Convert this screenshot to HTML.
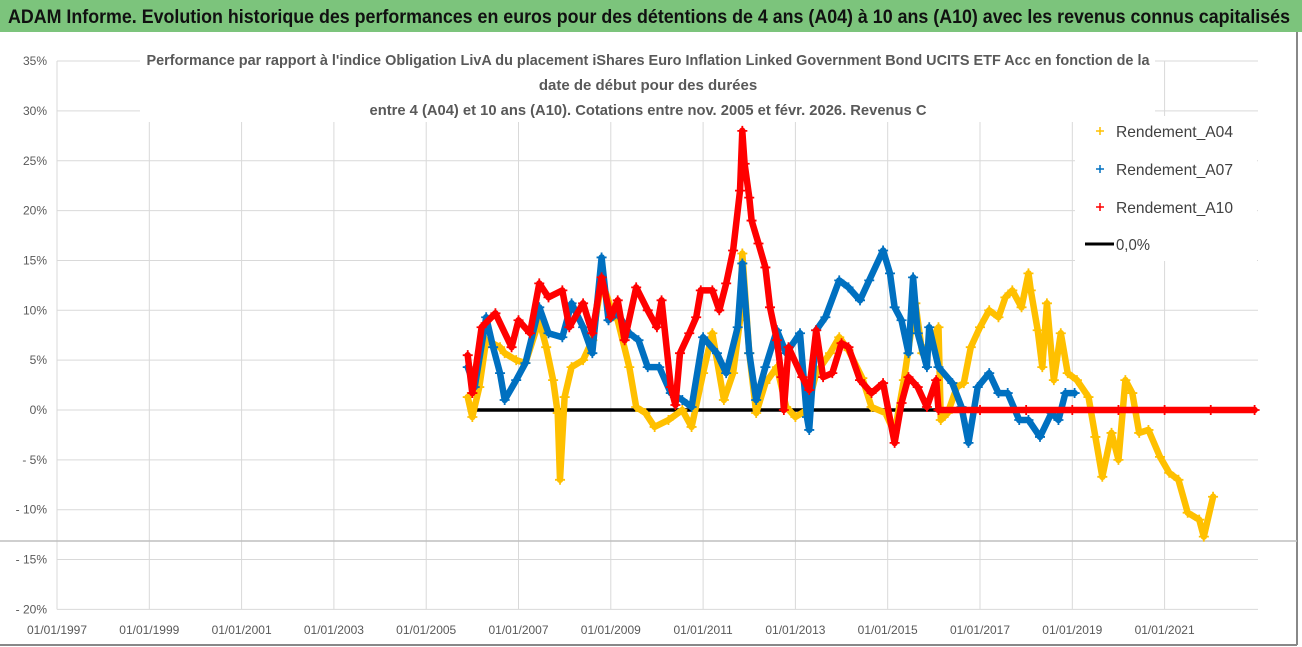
<!DOCTYPE html>
<html><head><meta charset="utf-8"><style>
body{margin:0;background:#fff;width:1302px;height:647px;overflow:hidden;font-family:"Liberation Sans",sans-serif}
svg{display:block}
</style></head><body>
<svg id="chart" width="1302" height="647" xmlns="http://www.w3.org/2000/svg">
<rect x="0" y="0" width="1302" height="647" fill="#fff"/>
<rect x="0" y="0" width="1302" height="32" fill="#7cc47c"/>
<text x="8" y="23" font-size="19" font-weight="bold" fill="#111" textLength="1282" lengthAdjust="spacingAndGlyphs">ADAM Informe. Evolution historique des performances en euros pour des détentions de 4 ans (A04) à 10 ans (A10) avec les revenus connus capitalisés</text>
<line x1="1297" y1="32" x2="1297" y2="645" stroke="#888" stroke-width="2"/>
<line x1="0" y1="645" x2="1297" y2="645" stroke="#888" stroke-width="2"/>
<g id="grid"></g>
<g id="series"></g>
<rect x="140" y="42" width="1015" height="80" fill="#fff"/>
<g font-size="15" font-weight="bold" fill="#595959" text-anchor="middle">
<text x="648" y="65" textLength="1003" lengthAdjust="spacingAndGlyphs">Performance par rapport à l'indice Obligation LivA  du placement iShares Euro Inflation Linked Government Bond UCITS ETF Acc en fonction de la</text>
<text x="648" y="90">date de début pour des durées</text>
<text x="648" y="115" textLength="557" lengthAdjust="spacingAndGlyphs">entre 4 (A04) et 10 ans (A10). Cotations entre nov. 2005 et févr. 2026. Revenus C</text>
</g>
<rect x="1075" y="116" width="182" height="145" fill="#fff"/>
<g font-size="16" fill="#404040">
<g><path d="M1096 131h8M1100 127v8" stroke="#ffc000" stroke-width="1.5"/><text x="1116" y="137" textLength="117" lengthAdjust="spacingAndGlyphs">Rendement_A04</text></g>
<g><path d="M1096 169h8M1100 165v8" stroke="#0070c0" stroke-width="1.5"/><text x="1116" y="175" textLength="117" lengthAdjust="spacingAndGlyphs">Rendement_A07</text></g>
<g><path d="M1096 207h8M1100 203v8" stroke="#ff0000" stroke-width="1.5"/><text x="1116" y="213" textLength="117" lengthAdjust="spacingAndGlyphs">Rendement_A10</text></g>
<g><line x1="1085" y1="244" x2="1114" y2="244" stroke="#000" stroke-width="3"/><text x="1116" y="250" textLength="34" lengthAdjust="spacingAndGlyphs">0,0%</text></g>
</g>
</svg>
<script>
const yTicks=[35,30,25,20,15,10,5,0,-5,-10,-15,-20];
const yTickLabels=["35%","30%","25%","20%","15%","10%","5%","0%","- 5%","- 10%","- 15%","- 20%"];
const xTicks=[1997,1999,2001,2003,2005,2007,2009,2011,2013,2015,2017,2019,2021];
const xTickLabels=["01/01/1997","01/01/1999","01/01/2001","01/01/2003","01/01/2005","01/01/2007","01/01/2009","01/01/2011","01/01/2013","01/01/2015","01/01/2017","01/01/2019","01/01/2021"];
const a04Years=[2005.9,2006.0,2006.15,2006.3,2006.6,2006.7,2006.95,2007.15,2007.45,2007.6,2007.75,2007.85,2007.9,2008.0,2008.15,2008.4,2008.6,2008.8,2009.0,2009.15,2009.4,2009.55,2009.75,2009.95,2010.25,2010.55,2010.75,2011.0,2011.2,2011.45,2011.65,2011.8,2011.85,2012.0,2012.15,2012.35,2012.6,2012.8,2013.0,2013.25,2013.45,2013.75,2013.95,2014.15,2014.45,2014.65,2014.95,2015.15,2015.35,2015.5,2015.6,2015.75,2015.95,2016.1,2016.15,2016.3,2016.5,2016.65,2016.8,2017.0,2017.2,2017.4,2017.55,2017.7,2017.9,2018.05,2018.1,2018.25,2018.35,2018.45,2018.6,2018.75,2018.9,2019.1,2019.35,2019.5,2019.65,2019.85,2020.0,2020.15,2020.3,2020.45,2020.65,2020.9,2021.1,2021.3,2021.5,2021.75,2021.85,2022.05];
const a04Values=[1.3,-0.7,2.3,7,6.3,5.7,5,4.7,9,6.3,3,-0.3,-7,1.3,4.3,5,7,13,10.3,9,4.3,0.3,-0.3,-1.7,-1,0,-1.7,3.7,7.7,1,3.7,9,15.7,5.7,-0.3,2.7,4.3,0.3,-0.7,0,3.7,5.7,7.3,6,3.2,0.3,-0.3,-2.3,3,7.7,10.7,5.7,7,8.3,-1,-0.3,2.3,2.7,6.3,8.3,10,9.3,11.3,12,10.3,13.7,12,8,4.3,10.7,3,7.7,3.7,3,1.3,-2.7,-6.7,-2.3,-5,3,1.7,-2.3,-2,-4.7,-6.3,-7,-10.3,-11,-12.7,-8.7];
const a07Years=[2005.9,2006.05,2006.3,2006.45,2006.6,2006.7,2006.95,2007.15,2007.45,2007.65,2007.95,2008.15,2008.4,2008.6,2008.8,2008.95,2009.15,2009.4,2009.6,2009.8,2010.05,2010.3,2010.55,2010.75,2011.0,2011.3,2011.5,2011.75,2011.85,2012.0,2012.15,2012.35,2012.6,2012.8,2013.1,2013.25,2013.3,2013.45,2013.65,2013.95,2014.15,2014.4,2014.6,2014.9,2015.05,2015.15,2015.3,2015.45,2015.55,2015.65,2015.85,2015.9,2016.1,2016.4,2016.6,2016.75,2016.95,2017.2,2017.4,2017.6,2017.85,2018.05,2018.3,2018.55,2018.7,2018.85,2019.05];
const a07Values=[4.3,2.3,9.3,6.3,3.7,1,3,4.7,10.3,7.7,7.3,10.7,8.3,5.7,15.3,9,9.7,7.7,7,4.3,4.3,1.7,1,0.3,7.3,5.7,3.7,8.3,14.7,5.7,1,4.3,8,5.7,7.7,-0.7,-2,8,9.3,13,12.3,11,13,16,13.7,10.3,9,5.7,13.3,7.7,4.3,8.3,4.3,2.7,0.3,-3.3,2.3,3.7,1.7,1.7,-1,-1,-2.7,-0.3,-1,1.7,1.7];
const a10Years=[2005.9,2006.0,2006.2,2006.5,2006.85,2007.0,2007.25,2007.45,2007.65,2007.95,2008.1,2008.4,2008.6,2008.8,2009.0,2009.15,2009.3,2009.55,2009.8,2010.0,2010.1,2010.3,2010.4,2010.5,2010.7,2010.85,2010.95,2011.2,2011.35,2011.5,2011.65,2011.8,2011.85,2011.9,2012.0,2012.05,2012.2,2012.35,2012.45,2012.6,2012.7,2012.75,2012.85,2013.15,2013.3,2013.45,2013.6,2013.8,2014.0,2014.15,2014.4,2014.65,2014.9,2015.15,2015.3,2015.45,2015.65,2015.85,2016.05,2016.1,2017,2018,2019,2020,2021,2022,2022.95];
const a10Values=[5.5,1.7,8.3,9.7,6.3,9,7.7,12.7,11.3,12,8.3,10.7,7.7,13.3,9.3,11,7,12.3,10,8.3,11,2.3,0.5,5.7,7.7,9.3,12,12,10,12.7,16,22,28,24.7,21.3,19,16.7,14.3,10.3,7,3.3,0,6.3,3.3,2,8,3.3,3.7,6.7,6.3,3,1.7,2.7,-3.3,0.7,3.3,2.3,0.3,3,0,0,0,0,0,0,0,0];
const zeroYears=[2005.9,2016.1];
const zeroValues=[0,0];

const NS="http://www.w3.org/2000/svg";
function xScale(yr){return 57+(yr-1997)*46.15;}
function yScale(v){return 410-v*9.97;}
function mk(tag,attrs,parent){const e=document.createElementNS(NS,tag);for(const k in attrs)e.setAttribute(k,attrs[k]);parent.appendChild(e);return e;}
const grid=document.getElementById('grid');
const ser=document.getElementById('series');
yTicks.forEach((v,i)=>{
  const l=mk('line',{x1:57,x2:1258,y1:yScale(v),y2:yScale(v),stroke:'#d9d9d9','stroke-width':1},grid);
  
  
  const t=mk('text',{x:47,y:yScale(v)+4,'font-size':12,fill:'#595959','text-anchor':'end'},grid);
  t.textContent=yTickLabels[i];
  
  
});
xTicks.forEach((yr,i)=>{
  const l=mk('line',{x1:xScale(yr),x2:xScale(yr),y1:yScale(35),y2:yScale(-20),stroke:'#d9d9d9','stroke-width':1},grid);
  
  
  const t=mk('text',{x:xScale(yr),y:634,'font-size':12,fill:'#595959','text-anchor':'middle'},grid);
  t.textContent=xTickLabels[i];
  
  
});
const hl=mk('line',{x1:0,x2:1297,y1:541,y2:541,stroke:'#bfbfbf','stroke-width':1.5},grid);



const zl=mk('line',{x1:xScale(zeroYears[0]),x2:xScale(zeroYears[1]),y1:yScale(zeroValues[0]),y2:yScale(zeroValues[1]),stroke:'#000','stroke-width':3.5},ser);



function drawSeries(years,vals,color,name){
  const g=mk('g',{},ser);
  
  
  let d='';
  years.forEach((yr,i)=>{d+=(i?'L':'M')+xScale(yr).toFixed(1)+' '+yScale(vals[i]).toFixed(1);});
  const p=mk('path',{d:d,fill:'none',stroke:color,'stroke-width':6.5,'stroke-linejoin':'round','stroke-linecap':'round'},g);
  
  
  years.forEach((yr,i)=>{
    const x=xScale(yr),y=yScale(vals[i]);
    const m=mk('path',{d:`M${x-5} ${y}h10M${x} ${y-5}v10`,stroke:color,'stroke-width':1.8},g);
    
    
  });
}
drawSeries(a04Years,a04Values,'#ffc000','series-a04');
drawSeries(a07Years,a07Values,'#0070c0','series-a07');
drawSeries(a10Years,a10Values,'#ff0000','series-a10');
</script>
</body></html>
